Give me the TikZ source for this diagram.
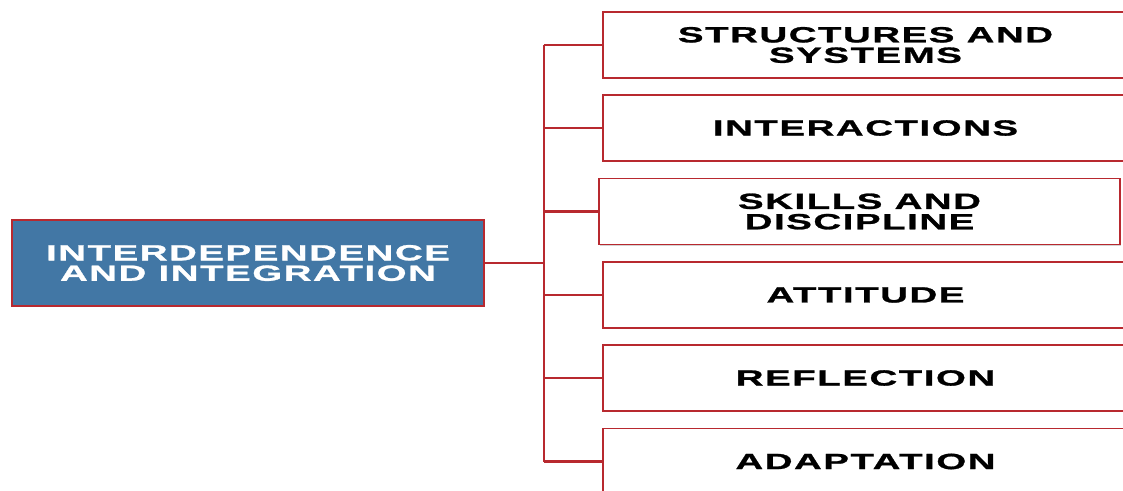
\documentclass[tikz,border=0pt]{standalone}
\usepackage{fontspec}
\setmainfont{Liberation Sans}
\newfontfamily\boxfont[FakeStretch=1.75,LetterSpace=7,FakeBold=1.2]{Liberation Sans}
\usepackage{tikz}
\usetikzlibrary{shadows}
\definecolor{boxred}{HTML}{B8292F}
\definecolor{rootblue}{HTML}{4277A5}

\tikzset{
  frame/.style={draw=boxred, line width=1.1pt, rectangle,
    drop shadow={shadow xshift=0.6pt, shadow yshift=-0.8pt, opacity=0.35},
    font=\boxfont\bfseries\fontsize{12.5}{11.6}\selectfont, align=center,
    inner sep=0pt},
  root/.style={frame, fill=rootblue, text=white,
    minimum width=9.44cm, minimum height=1.72cm},
  item/.style={frame, fill=white, text=black,
    minimum width=10.5cm, minimum height=1.32cm},
  link/.style={draw=boxred, line width=1.2pt}
}

\begin{document}
\begin{tikzpicture}
  \useasboundingbox (0,0) rectangle (22.46,-9.82);

  \node[root] (theme) at (4.96,-5.26) {INTERDEPENDENCE\\AND INTEGRATION};

  % branches on the right
  \node[item] (s1) at (17.31,-0.90) {STRUCTURES AND\\SYSTEMS};
  \node[item] (s2) at (17.31,-2.56) {INTERACTIONS};
  \node[item, minimum width=10.42cm] (s3) at (17.19,-4.23) {SKILLS AND\\DISCIPLINE};
  \node[item] (s4) at (17.31,-5.90) {ATTITUDE};
  \node[item] (s5) at (17.31,-7.56) {REFLECTION};
  \node[item] (s6) at (17.31,-9.23) {ADAPTATION};

  \draw[link] (theme.east) -- ++(1.18,0) coordinate (hub);
  \draw[link] (hub |- s1.west) -- (hub |- s6.west);
  \foreach \k in {1,...,6} {
    \draw[link] (hub |- s\k.west) -- (s\k.west);
  }
\end{tikzpicture}
\end{document}
